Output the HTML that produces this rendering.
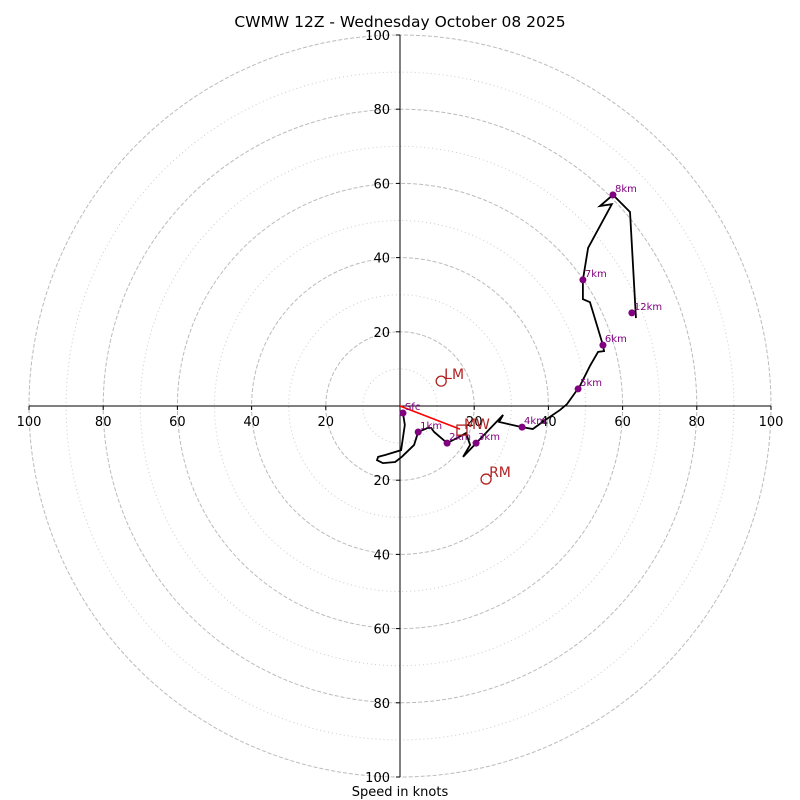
<!DOCTYPE html>
<html><head><meta charset="utf-8"><style>
body{margin:0;background:#fff}
svg{display:block;font-family:"DejaVu Sans","Liberation Sans",sans-serif}
</style></head><body>
<svg id="c" width="800" height="800">
<text x="400" y="27" font-size="15.5" text-anchor="middle">CWMW 12Z - Wednesday October 08 2025</text>
<text x="400" y="796" font-size="13" text-anchor="middle">Speed in knots</text>
<g id="rings"></g><g id="axes"></g><g id="trace"></g><g id="pts"></g>
</svg>
<script>
const ringValues=[10,20,30,40,50,60,70,80,90,100];
const tickLabels=[20,40,60,80,100];
const traceU=[0.8,1.3,0.3,-4.0,-5.9,-6.2,-4.6,-1.3,0.5,3.8,4.9,7.5,8.4,9.2,12.7,15.4,17.8,18.9,17.0,27.8,26.7,31.5,32.9,35.8,39.1,43.1,45.0,48.5,51.2,53.4,55.0,54.7,51.2,49.3,49.3,50.7,57.1,53.9,57.4,62.0,63.6];
const traceV=[-1.9,-5.1,-11.9,-13.2,-13.7,-14.6,-15.4,-15.1,-13.7,-10.5,-7.0,-5.9,-5.9,-7.0,-10.0,-8.6,-7.3,-10.5,-13.7,-2.4,-4.3,-5.4,-5.7,-6.2,-3.8,-1.1,0.5,5.4,10.8,14.6,14.8,16.4,28.0,28.8,34.0,42.6,54.4,53.9,56.9,52.3,23.7];
const levelLabels=['Sfc','1km','2km','3km','4km','5km','6km','7km','8km','12km'];
const levelU=[0.8,4.9,12.7,20.5,32.9,48.0,54.7,49.3,57.4,62.5];
const levelV=[-1.9,-7.0,-10.0,-10.0,-5.7,4.6,16.4,34.0,56.9,25.1];
const lmUV=[11.1,6.7], rmUV=[23.2,-19.7], mwUV=[16.7,-6.5];
const cx=400,cy=406,R=371,maxV=100;
const sx=u=>cx+u*R/maxV, sy=v=>cy-v*R/maxV, sr=r=>r*R/maxV;
const NS='http://www.w3.org/2000/svg';
function mk(t,p,a){const e=document.createElementNS(NS,t);for(const k in a)e.setAttribute(k,a[k]);p.appendChild(e);return e;}
const rings=document.getElementById('rings');
ringValues.forEach(r=>{const dashed=r%20===0;
 const c=mk('circle',rings,{cx:cx,cy:cy,r:sr(r),fill:'none',stroke:dashed?'#bbb':'#ccc','stroke-width':1,'stroke-dasharray':dashed?'4,2':'1,3'});
 
 });
const ax=document.getElementById('axes');
const hl=mk('line',ax,{x1:sx(-100),y1:cy,x2:sx(100),y2:cy,stroke:'#000','stroke-width':1});


const vl=mk('line',ax,{x1:cx,y1:sy(100),x2:cx,y2:sy(-100),stroke:'#000','stroke-width':1});


tickLabels.forEach(t=>{[-1,1].forEach(s=>{
 const x=sx(s*t);
 mk('line',ax,{x1:x,y1:cy,x2:x,y2:cy+4,stroke:'#000'});
 const tx=mk('text',ax,{x:x,y:cy+20,'font-size':13,'text-anchor':'middle'});tx.textContent=t;
 
 
 const y=sy(s*t);
 mk('line',ax,{x1:cx-4,y1:y,x2:cx,y2:y,stroke:'#000'});
 const ty=mk('text',ax,{x:cx-10,y:y+5,'font-size':13,'text-anchor':'end'});ty.textContent=t;
 
 });});
const tr=document.getElementById('trace');
const pl=mk('polyline',tr,{points:traceU.map((u,i)=>sx(u)+','+sy(traceV[i])).join(' '),fill:'none',stroke:'#000','stroke-width':1.8,'stroke-linejoin':'miter'});


const ar=mk('line',tr,{x1:cx,y1:cy,x2:sx(mwUV[0])-2,y2:sy(mwUV[1])-1,stroke:'red','stroke-width':1.6});


const pts=document.getElementById('pts');
levelLabels.forEach((l,i)=>{
 const c=mk('circle',pts,{cx:sx(levelU[i]),cy:sy(levelV[i]),r:3.5,fill:'purple'});
 
 
 const t=mk('text',pts,{x:sx(levelU[i])+2,y:sy(levelV[i])-3,'font-size':10,fill:'purple'});t.textContent=l;
 
 });
[['LM',lmUV],['RM',rmUV]].forEach(([n,p])=>{
 const c=mk('circle',pts,{cx:sx(p[0]),cy:sy(p[1]),r:5,fill:'none',stroke:'#b22222','stroke-width':1.3});
 
 
 const t=mk('text',pts,{x:sx(p[0])+3,y:sy(p[1])-2,'font-size':14,fill:'#b22222'});t.textContent=n;
 
 });
const sq=mk('rect',pts,{x:sx(mwUV[0])-5,y:sy(mwUV[1])-5,width:10,height:10,fill:'none',stroke:'#b22222','stroke-width':1.3});


const mt=mk('text',pts,{x:sx(mwUV[0])+2,y:sy(mwUV[1])-1,'font-size':14,fill:'#b22222'});mt.textContent='MW';


</script>
</body></html>
